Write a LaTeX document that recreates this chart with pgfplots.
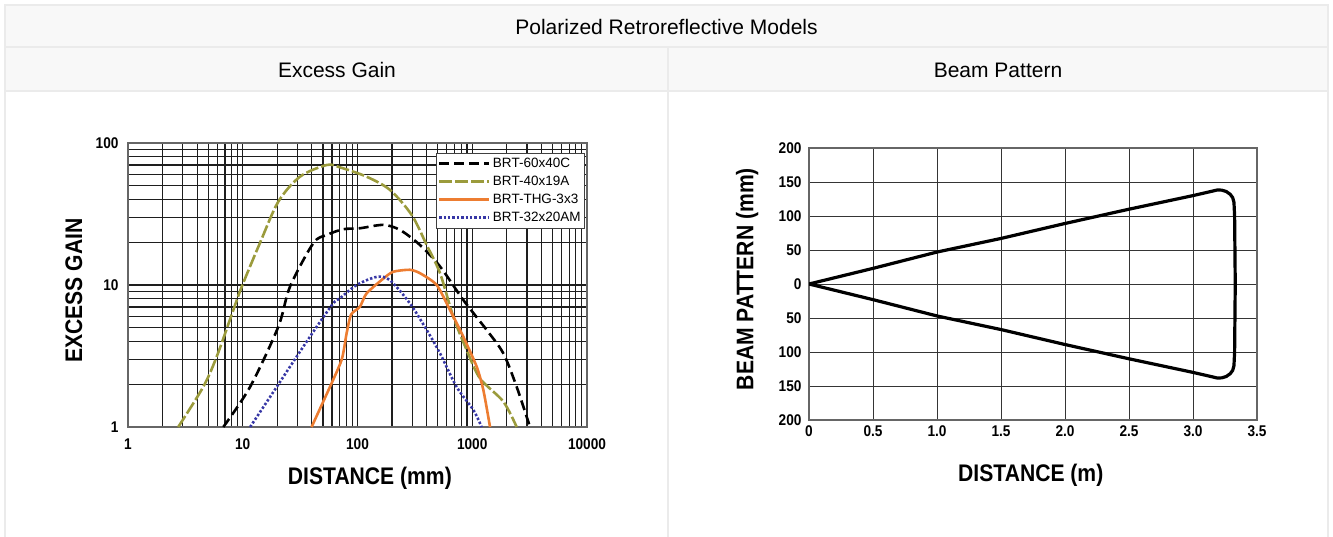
\documentclass[border=0pt]{standalone}
\usepackage{fontspec}
\setmainfont{Liberation Sans}
\newfontfamily\narrow{Liberation Sans}[FakeStretch=0.88]
\usepackage{pgfplots}
\pgfplotsset{compat=1.18}

\definecolor{hdr}{RGB}{248,248,248}
\definecolor{bord}{RGB}{235,235,235}
\definecolor{olivec}{RGB}{155,155,60}
\definecolor{orangec}{RGB}{237,125,49}
\definecolor{bluec}{RGB}{55,55,165}
\definecolor{gridc}{RGB}{30,30,30}

\newcommand{\tickfont}{\narrow\bfseries\fontsize{15.5}{17}\selectfont}
\newcommand{\labfont}{\narrow\bfseries\fontsize{24}{28}\selectfont}

\begin{document}
\begin{tikzpicture}
\path[use as bounding box] (0pt,0pt) rectangle (1333pt,536pt);

% table frame
\fill[hdr] (5pt,489pt) rectangle (1328pt,531pt);
\fill[hdr] (5pt,445pt) rectangle (1328pt,489pt);
\draw[bord, line width=2pt] (5pt,-2pt) -- (5pt,531pt) -- (1328pt,531pt) -- (1328pt,-2pt);
\draw[bord, line width=2pt] (5pt,489pt) -- (1328pt,489pt);
\draw[bord, line width=2pt] (5pt,445pt) -- (1328pt,445pt);
\draw[bord, line width=2pt] (668pt,-2pt) -- (668pt,489pt);
\node at (666.5pt,509pt) {\fontsize{21}{24}\selectfont Polarized Retroreflective Models};
\node at (337pt,466pt) {\fontsize{21}{24}\selectfont Excess Gain};
\node at (998pt,466pt) {\fontsize{21}{24}\selectfont Beam Pattern};

% excess gain
\begin{axis}[
at={(128pt,109pt)}, anchor=south west,
scale only axis,
width=459pt, height=284pt,
xmode=log, ymode=log,
xmin=1, xmax=10000, ymin=1, ymax=100,
xtick={1,10,100,1000,10000},
xticklabels={1,10,100,1000,10000},
minor xtick={2,3,4,5,6,7,8,9,20,30,40,50,60,70,80,90,200,300,400,500,600,700,800,900,2000,3000,4000,5000,6000,7000,8000,9000},
ytick={1,10,100},
yticklabels={1,10,100},
minor ytick={2,3,4,5,6,7,8,9,20,30,40,50,60,70,80,90},
grid=both,
major grid style={gridc, line width=1.1pt},
minor grid style={gridc, line width=1.1pt},
major tick length=0pt, minor tick length=0pt,
axis line style={black!60, line width=1.2pt},
ticklabel style={font=\tickfont},
/pgf/number format/assume math mode=true,
xticklabel style={yshift=-8pt},
yticklabel style={xshift=-6pt},
xlabel={DISTANCE (mm)},
xlabel style={font=\labfont, at={(axis description cs:0.527,-0.2042)}, anchor=base},
ylabel={EXCESS GAIN},
ylabel style={font=\labfont, at={(axis description cs:-0.1002,0.48)}, anchor=base},
legend style={at={(0.671,0.966)}, anchor=north west, draw=black!75, fill=white,
  line width=0.8pt, font=\fontsize{13.5}{15}\selectfont, legend cell align=left,
  inner sep=1.5pt, nodes={inner sep=2.5pt, text height=10pt, text depth=3pt}},
legend image code/.code={\draw[#1] (0pt,0pt) -- (50pt,0pt);},
]
\addplot[black, line width=2.6pt, dash pattern=on 10pt off 5pt, smooth, tension=0.5] coordinates {
(6.77,1) (11.6,1.92) (20.4,5.08) (25.8,9.73) (41.2,19.7) (53.9,22.5) (75.2,24.7)
(105,25.1) (168,26.5) (235,24.4) (351,19.1) (524,13.5) (836,7.84) (1336,4.82)
(1866,3.30) (2438,1.92) (3186,1.0)};
\addlegendentry{BRT-60x40C}
\addplot[olivec, line width=2.6pt, dash pattern=on 13pt off 3pt, smooth, tension=0.5] coordinates {
(2.74,1.0) (4.53,1.92) (5.93,3.13) (8.28,6.67) (9.8,9.73) (14.1,19.7) (20.4,38.6)
(31.5,57.9) (53.9,70) (70.3,67.4) (120,57.9) (192,46.7) (297,31.1) (401,19.1)
(524,12.1) (684,5.98) (895,3.48) (1168,2.20) (1866,1.51) (2438,1.0)};
\addlegendentry{BRT-40x19A}
\addplot[orangec, line width=2.6pt, smooth, tension=0.4] coordinates {
(39.8,1) (57.6,1.92) (73,3.0) (80.5,4.6) (88,6.2) (105,7.03) (120,8.73) (168,11.1)
(205,12.4) (286,12.8) (351,12.1) (490,10.0) (640,6.67) (836,4.32) (1093,2.66)
(1250,1.82) (1429,1.0)};
\addlegendentry{BRT-THG-3x3}
\addplot[bluec, line width=2.6pt, dash pattern=on 2.4pt off 2pt, smooth, tension=0.5] coordinates {
(11.6,1) (19.8,1.92) (29.5,3.13) (44.1,5.08) (61.5,7.43) (70.3,8.06) (98.4,10)
(147,11.4) (192,10.8) (286,7.43) (401,4.82) (524,3.30) (730,1.92) (1021,1.32) (1208,1.0)};
\addlegendentry{BRT-32x20AM}
\end{axis}

% beam pattern
\begin{axis}[
at={(809pt,116pt)}, anchor=south west,
scale only axis,
width=448pt, height=272pt,
xmin=0, xmax=3.5, ymin=-200, ymax=200,
xtick={0,0.5,1,1.5,2,2.5,3,3.5},
xticklabels={0,0.5,1.0,1.5,2.0,2.5,3.0,3.5},
ytick={-200,-150,-100,-50,0,50,100,150,200},
yticklabels={200,150,100,50,0,50,100,150,200},
grid=major,
major grid style={gridc!90, line width=1pt},
major tick length=0pt,
axis line style={black!60, line width=1.2pt},
ticklabel style={font=\tickfont},
/pgf/number format/assume math mode=true,
xticklabel style={yshift=-2pt},
yticklabel style={xshift=-4pt},
xlabel={DISTANCE (m)},
xlabel style={font=\labfont, at={(axis description cs:0.495,-0.2268)}, anchor=base},
ylabel={BEAM PATTERN (mm)},
ylabel style={font=\labfont, at={(axis description cs:-0.1243,0.518)}, anchor=base},
]
\addplot[black, line width=3.2pt, line join=round] coordinates {
(0,0) (0.5,23) (1.0,47) (1.5,67) (2.0,89) (2.5,110) (3.0,130) (3.15,136.5)
(3.19,138.3) (3.225,138) (3.26,136) (3.29,132) (3.31,127) (3.32,120) (3.325,100)
(3.33,0)
(3.325,-100) (3.32,-120) (3.31,-127) (3.29,-132) (3.26,-136) (3.225,-138)
(3.19,-138.3) (3.15,-136.5) (3.0,-130) (2.5,-110) (2.0,-89) (1.5,-67) (1.0,-47)
(0.5,-23) (0,0)};
\end{axis}
\end{tikzpicture}
\end{document}
